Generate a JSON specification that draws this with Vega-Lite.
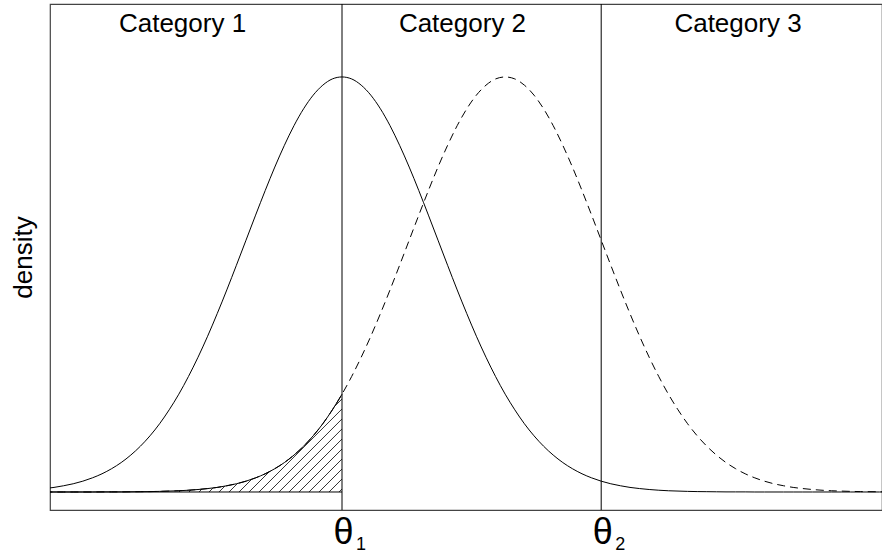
{
  "$schema": "https://vega.github.io/schema/vega-lite/v6.json",
  "width": 832,
  "height": 506,
  "autosize": {"type": "none"},
  "padding": {"left": 50, "top": 4, "right": 0, "bottom": 44},
  "background": "white",
  "config": {
    "view": {"stroke": "#444", "strokeWidth": 1.2},
    "font": "Liberation Sans",
    "text": {"font": "Liberation Sans", "color": "black"},
    "axisY": {
      "labels": false,
      "ticks": false,
      "domain": false,
      "grid": false,
      "titleFont": "Liberation Sans",
      "titleFontSize": 26,
      "titleFontWeight": "normal",
      "titleColor": "black",
      "titleAngle": -90,
      "titleX": -27,
      "titleY": 253,
      "titleAlign": "center",
      "titleBaseline": "middle"
    }
  },
  "datasets": {
    "curves": [
      {"x": -3.1, "s": 0.0033, "d": 0},
      {"x": -3.0, "s": 0.0044, "d": 0},
      {"x": -2.9, "s": 0.0060, "d": 0},
      {"x": -2.8, "s": 0.0079, "d": 0},
      {"x": -2.7, "s": 0.0104, "d": 0},
      {"x": -2.6, "s": 0.0136, "d": 0},
      {"x": -2.5, "s": 0.0175, "d": 0.0001},
      {"x": -2.4, "s": 0.0224, "d": 0.0001},
      {"x": -2.3, "s": 0.0283, "d": 0.0001},
      {"x": -2.2, "s": 0.0355, "d": 0.0002},
      {"x": -2.1, "s": 0.0440, "d": 0.0003},
      {"x": -2.0, "s": 0.0540, "d": 0.0004},
      {"x": -1.9, "s": 0.0656, "d": 0.0006},
      {"x": -1.8, "s": 0.0790, "d": 0.0009},
      {"x": -1.7, "s": 0.0940, "d": 0.0012},
      {"x": -1.6, "s": 0.1109, "d": 0.0017},
      {"x": -1.5, "s": 0.1295, "d": 0.0024},
      {"x": -1.4, "s": 0.1497, "d": 0.0033},
      {"x": -1.3, "s": 0.1714, "d": 0.0044},
      {"x": -1.2, "s": 0.1942, "d": 0.0060},
      {"x": -1.1, "s": 0.2179, "d": 0.0079},
      {"x": -1.0, "s": 0.2420, "d": 0.0104},
      {"x": -0.9, "s": 0.2661, "d": 0.0136},
      {"x": -0.8, "s": 0.2897, "d": 0.0175},
      {"x": -0.7, "s": 0.3123, "d": 0.0224},
      {"x": -0.6, "s": 0.3332, "d": 0.0283},
      {"x": -0.5, "s": 0.3521, "d": 0.0355},
      {"x": -0.4, "s": 0.3683, "d": 0.0440},
      {"x": -0.3, "s": 0.3814, "d": 0.0540},
      {"x": -0.2, "s": 0.3910, "d": 0.0656},
      {"x": -0.1, "s": 0.3970, "d": 0.0790},
      {"x": 0.0, "s": 0.3989, "d": 0.0940},
      {"x": 0.1, "s": 0.3970, "d": 0.1109},
      {"x": 0.2, "s": 0.3910, "d": 0.1295},
      {"x": 0.3, "s": 0.3814, "d": 0.1497},
      {"x": 0.4, "s": 0.3683, "d": 0.1714},
      {"x": 0.5, "s": 0.3521, "d": 0.1942},
      {"x": 0.6, "s": 0.3332, "d": 0.2179},
      {"x": 0.7, "s": 0.3123, "d": 0.2420},
      {"x": 0.8, "s": 0.2897, "d": 0.2661},
      {"x": 0.9, "s": 0.2661, "d": 0.2897},
      {"x": 1.0, "s": 0.2420, "d": 0.3123},
      {"x": 1.1, "s": 0.2179, "d": 0.3332},
      {"x": 1.2, "s": 0.1942, "d": 0.3521},
      {"x": 1.3, "s": 0.1714, "d": 0.3683},
      {"x": 1.4, "s": 0.1497, "d": 0.3814},
      {"x": 1.5, "s": 0.1295, "d": 0.3910},
      {"x": 1.6, "s": 0.1109, "d": 0.3970},
      {"x": 1.7, "s": 0.0940, "d": 0.3989},
      {"x": 1.8, "s": 0.0790, "d": 0.3970},
      {"x": 1.9, "s": 0.0656, "d": 0.3910},
      {"x": 2.0, "s": 0.0540, "d": 0.3814},
      {"x": 2.1, "s": 0.0440, "d": 0.3683},
      {"x": 2.2, "s": 0.0355, "d": 0.3521},
      {"x": 2.3, "s": 0.0283, "d": 0.3332},
      {"x": 2.4, "s": 0.0224, "d": 0.3123},
      {"x": 2.5, "s": 0.0175, "d": 0.2897},
      {"x": 2.6, "s": 0.0136, "d": 0.2661},
      {"x": 2.7, "s": 0.0104, "d": 0.2420},
      {"x": 2.8, "s": 0.0079, "d": 0.2179},
      {"x": 2.9, "s": 0.0060, "d": 0.1942},
      {"x": 3.0, "s": 0.0044, "d": 0.1714},
      {"x": 3.1, "s": 0.0033, "d": 0.1497},
      {"x": 3.2, "s": 0.0024, "d": 0.1295},
      {"x": 3.3, "s": 0.0017, "d": 0.1109},
      {"x": 3.4, "s": 0.0012, "d": 0.0940},
      {"x": 3.5, "s": 0.0009, "d": 0.0790},
      {"x": 3.6, "s": 0.0006, "d": 0.0656},
      {"x": 3.7, "s": 0.0004, "d": 0.0540},
      {"x": 3.8, "s": 0.0003, "d": 0.0440},
      {"x": 3.9, "s": 0.0002, "d": 0.0355},
      {"x": 4.0, "s": 0.0001, "d": 0.0283},
      {"x": 4.1, "s": 0.0001, "d": 0.0224},
      {"x": 4.2, "s": 0.0001, "d": 0.0175},
      {"x": 4.3, "s": 0, "d": 0.0136},
      {"x": 4.4, "s": 0, "d": 0.0104},
      {"x": 4.5, "s": 0, "d": 0.0079},
      {"x": 4.6, "s": 0, "d": 0.0060},
      {"x": 4.7, "s": 0, "d": 0.0044},
      {"x": 4.8, "s": 0, "d": 0.0033},
      {"x": 4.9, "s": 0, "d": 0.0024},
      {"x": 5.0, "s": 0, "d": 0.0017},
      {"x": 5.1, "s": 0, "d": 0.0012},
      {"x": 5.2, "s": 0, "d": 0.0009},
      {"x": 5.3, "s": 0, "d": 0.0006},
      {"x": 5.4, "s": 0, "d": 0.0004},
      {"x": 5.5, "s": 0, "d": 0.0003},
      {"x": 5.6, "s": 0, "d": 0.0002},
      {"x": 5.7, "s": 0, "d": 0.0001}
    ],
    "hatch": [
      {"x": -0.0313, "y": 0, "x2": 0, "y2": 0.0029},
      {"x": -0.1354, "y": 0, "x2": 0, "y2": 0.0125},
      {"x": -0.2396, "y": 0, "x2": 0, "y2": 0.0221},
      {"x": -0.3438, "y": 0, "x2": 0, "y2": 0.0317},
      {"x": -0.4479, "y": 0, "x2": 0, "y2": 0.0413},
      {"x": -0.5521, "y": 0, "x2": 0, "y2": 0.0509},
      {"x": -0.6563, "y": 0, "x2": 0, "y2": 0.0606},
      {"x": -0.7604, "y": 0, "x2": 0, "y2": 0.0702},
      {"x": -0.8646, "y": 0, "x2": 0, "y2": 0.0798},
      {"x": -0.9688, "y": 0, "x2": -0.7573, "y2": 0.0195},
      {"x": -0.0781, "y": 0.0822, "x2": 0, "y2": 0.0894},
      {"x": -1.0729, "y": 0, "x2": -0.9406, "y2": 0.0122},
      {"x": -1.1771, "y": 0, "x2": -1.0885, "y2": 0.0082},
      {"x": -1.2813, "y": 0, "x2": -1.2198, "y2": 0.0057},
      {"x": -1.3854, "y": 0, "x2": -1.3438, "y2": 0.0038},
      {"x": -1.4896, "y": 0, "x2": -1.4604, "y2": 0.0027},
      {"x": -1.5938, "y": 0, "x2": -1.5740, "y2": 0.0018},
      {"x": -1.6979, "y": 0, "x2": -1.6844, "y2": 0.0012}
    ],
    "cuts": [
      {"x": 0, "sub": "1"},
      {"x": 2.7, "sub": "2"}
    ],
    "cats": [
      {"x": -1.661, "label": "Category 1"},
      {"x": 1.255, "label": "Category 2"},
      {"x": 4.125, "label": "Category 3"}
    ]
  },
  "encoding": {
    "x": {
      "field": "x",
      "type": "quantitative",
      "scale": {"domain": [-3.0417, 5.625], "nice": false, "zero": false},
      "axis": null
    }
  },
  "layer": [
    {
      "data": {"name": "hatch"},
      "mark": {"type": "rule", "color": "black", "strokeWidth": 0.8, "clip": true},
      "encoding": {
        "x2": {"field": "x2"},
        "y": {"field": "y", "type": "quantitative", "title": "density", "scale": {"domain": [-0.0173, 0.469], "nice": false, "zero": false}},
        "y2": {"field": "y2"}
      }
    },
    {
      "data": {"values": [{"x": -3.1, "x2": 0, "y": 0}]},
      "mark": {"type": "rule", "color": "black", "strokeWidth": 1, "clip": true},
      "encoding": {
        "x2": {"field": "x2"},
        "y": {"field": "y", "type": "quantitative", "title": "density", "scale": {"domain": [-0.0173, 0.469], "nice": false, "zero": false}}
      }
    },
    {
      "data": {"name": "curves"},
      "mark": {"type": "line", "color": "black", "strokeWidth": 1, "interpolate": "monotone", "clip": true},
      "encoding": {
        "y": {"field": "s", "type": "quantitative", "title": "density", "scale": {"domain": [-0.0173, 0.469], "nice": false, "zero": false}}
      }
    },
    {
      "data": {"name": "curves"},
      "mark": {"type": "line", "color": "black", "strokeWidth": 1, "strokeDash": [8, 5], "interpolate": "monotone", "clip": true},
      "encoding": {
        "y": {"field": "d", "type": "quantitative", "title": "density", "scale": {"domain": [-0.0173, 0.469], "nice": false, "zero": false}}
      }
    },
    {
      "data": {"name": "curves"},
      "transform": [{"filter": "datum.x <= 0"}],
      "mark": {"type": "line", "color": "black", "strokeWidth": 1, "interpolate": "monotone", "clip": true},
      "encoding": {
        "y": {"field": "d", "type": "quantitative", "title": "density", "scale": {"domain": [-0.0173, 0.469], "nice": false, "zero": false}}
      }
    },
    {
      "data": {"name": "cuts"},
      "mark": {"type": "rule", "color": "black", "strokeWidth": 1},
      "encoding": {}
    },
    {
      "data": {"name": "cuts"},
      "mark": {"type": "text", "fontSize": 36, "align": "center", "baseline": "alphabetic", "dx": 1.5, "text": "θ"},
      "encoding": {
        "y": {"datum": -0.05, "type": "quantitative", "title": "density", "scale": {"domain": [-0.0173, 0.469], "nice": false, "zero": false}}
      }
    },
    {
      "data": {"name": "cuts"},
      "mark": {"type": "text", "fontSize": 18, "align": "center", "baseline": "alphabetic", "dx": 19},
      "encoding": {
        "text": {"field": "sub"},
        "y": {"datum": -0.0557, "type": "quantitative", "title": "density", "scale": {"domain": [-0.0173, 0.469], "nice": false, "zero": false}}
      }
    },
    {
      "data": {"name": "cats"},
      "mark": {"type": "text", "fontSize": 26, "align": "center", "baseline": "alphabetic"},
      "encoding": {
        "text": {"field": "label"},
        "y": {"datum": 0.4424, "type": "quantitative", "title": "density", "scale": {"domain": [-0.0173, 0.469], "nice": false, "zero": false}}
      }
    }
  ]
}
